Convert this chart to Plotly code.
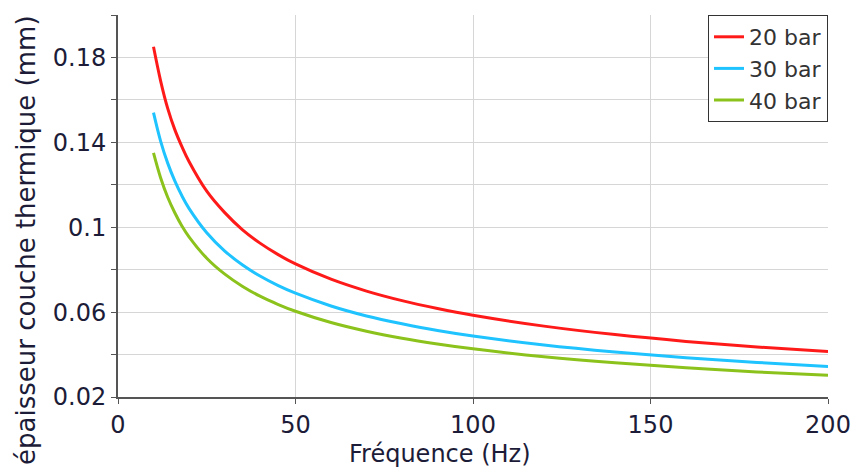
import plotly.graph_objects as go

freq = [10, 12, 14, 16, 18, 20, 25, 30, 35, 40, 45, 50, 60, 70, 80, 90, 100, 120, 140, 160, 180, 200]
bar20 = [0.185, 0.169, 0.156, 0.146, 0.138, 0.131, 0.117, 0.107, 0.0989, 0.0925, 0.0872, 0.0827,
         0.0755, 0.0699, 0.0654, 0.0617, 0.0585, 0.0534, 0.0494, 0.0462, 0.0436, 0.0414]
bar30 = [0.154, 0.1406, 0.1302, 0.1218, 0.1148, 0.1089, 0.0974, 0.0889, 0.0823, 0.0770, 0.0726, 0.0689,
         0.0629, 0.0582, 0.0545, 0.0513, 0.0487, 0.0445, 0.0412, 0.0385, 0.0363, 0.0344]
bar40 = [0.135, 0.1233, 0.1141, 0.1068, 0.1006, 0.0955, 0.0854, 0.0780, 0.0722, 0.0675, 0.0637, 0.0604,
         0.0551, 0.0510, 0.0477, 0.0450, 0.0427, 0.0390, 0.0361, 0.0338, 0.0318, 0.0302]

series_names = ["20 bar", "30 bar", "40 bar"]
series_colors = ["#ff1a1a", "#1ec3ff", "#8cc21c"]

y_tickvals = [0.02, 0.04, 0.06, 0.08, 0.10, 0.12, 0.14, 0.16, 0.18, 0.20]
y_ticktext = ["0.02", "", "0.06", "", "0.1", "", "0.14", "", "0.18", ""]
x_tickvals = [0, 50, 100, 150, 200]
x_title = "Fréquence (Hz)"
y_title = "épaisseur couche thermique (mm)"

fig = go.Figure()
for name, ys, col in zip(series_names, [bar20, bar30, bar40], series_colors):
    fig.add_trace(go.Scatter(x=freq, y=ys, mode="lines", name=name,
                             line=dict(color=col, width=3, shape="spline")))

fig.update_layout(
    width=851, height=470,
    margin=dict(l=118, r=23, t=15, b=73, autoexpand=False),
    paper_bgcolor="white", plot_bgcolor="white",
    font=dict(family="DejaVu Sans", size=24, color="#1c1c38"),
    legend=dict(x=1, xanchor="right", y=1, yanchor="top",
                bgcolor="white", bordercolor="#333333", borderwidth=1,
                font=dict(size=22, color="#333333"),
                tracegroupgap=0, itemwidth=30),
    showlegend=True,
)
fig.add_annotation(text=x_title, xref="paper", yref="paper", x=0.4535, y=-0.150,
                   xanchor="center", yanchor="middle", showarrow=False,
                   font=dict(size=24, color="#1c1c38"))
fig.add_annotation(text=y_title, xref="paper", yref="paper", x=-0.1296, y=0.411,
                   xanchor="center", yanchor="middle", showarrow=False, textangle=-90,
                   font=dict(size=26, color="#1c1c38"))
fig.update_xaxes(range=[0, 200], tickvals=x_tickvals, showgrid=True, gridcolor="#d6d6d6", gridwidth=1,
                 showline=True, linecolor="#555555", linewidth=2, ticks="outside", ticklen=5,
                 tickcolor="#555555", zeroline=False, automargin=False)
fig.update_yaxes(range=[0.02, 0.20], tickvals=y_tickvals, ticktext=y_ticktext, showgrid=True,
                 gridcolor="#d6d6d6", gridwidth=1,
                 showline=True, linecolor="#555555", linewidth=2, ticks="outside", ticklen=5,
                 tickcolor="#555555", zeroline=False, automargin=False)

fig.write_html("out.html")
